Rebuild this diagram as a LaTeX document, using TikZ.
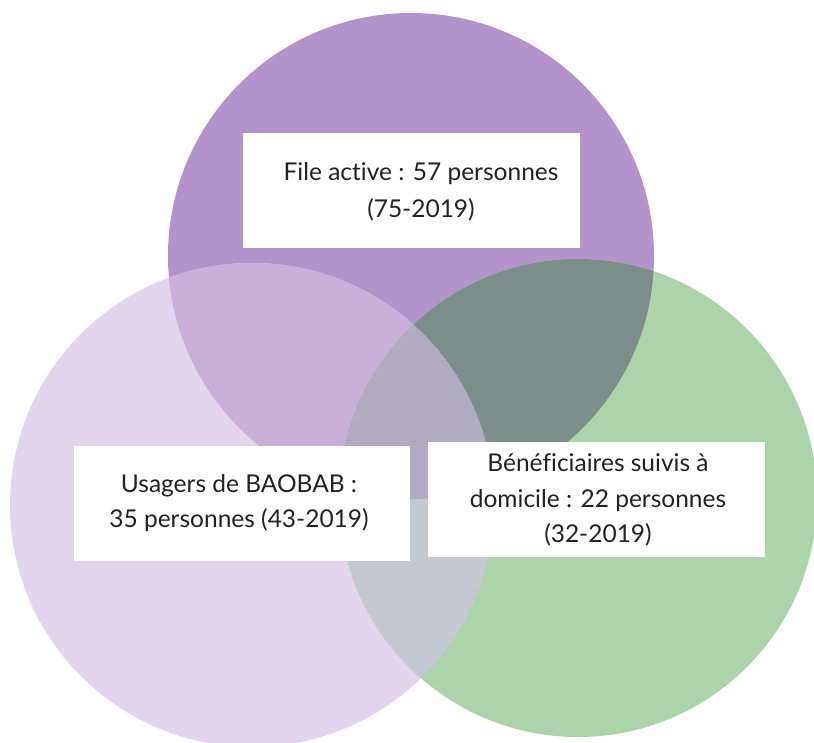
\documentclass[tikz,border=0pt]{standalone}
\usepackage{fontspec}
\setmainfont{Lato}[Ligatures=NoCommon]
\definecolor{cA}{HTML}{B393CC}
\definecolor{cB}{HTML}{E2D5EC}
\definecolor{cC}{HTML}{ABD4AB}
\definecolor{cAB}{HTML}{C8B0DA}
\definecolor{cAC}{HTML}{7B8E8A}
\definecolor{cBC}{HTML}{C4C8D0}
\definecolor{cABC}{HTML}{B0ABC0}
\definecolor{txt}{HTML}{222222}
\tikzset{
  whitebox/.style={draw=none, fill=white, rectangle, inner sep=0pt},
  lbl/.style={align=center, text=txt, inner sep=0pt, font=\fontsize{24.5}{37}\selectfont}
}
\begin{document}
\begin{tikzpicture}[x=1pt,y=-1pt]
\useasboundingbox (0,0) rectangle (814,742);
\begin{scope}
\clip (0,0) rectangle (814,742);
\def\circA{(411,256) circle (243)}
\def\circB{(252,505) circle (242)}
\def\circC{(578,498) circle (239)}
\fill[cA] \circA;
\fill[cB] \circB;
\fill[cC] \circC;
\begin{scope}\clip \circA; \fill[cAB] \circB; \fill[cAC] \circC; \end{scope}
\begin{scope}\clip \circB; \fill[cBC] \circC; \end{scope}
\begin{scope}\clip \circA; \clip \circB; \fill[cABC] \circC; \end{scope}
\end{scope}
\node[whitebox, minimum width=337, minimum height=115] (boxA) at (411.5,190.5) {};
\node[whitebox, minimum width=336, minimum height=115] (boxB) at (242,503.5) {};
\node[whitebox, minimum width=337, minimum height=115] (boxC) at (596.5,499.5) {};
\node[lbl] (tA) at (421,192) {File active : 57 personnes\\(75-2019)};
\node[lbl, font=\fontsize{24.5}{35}\selectfont] (tB) at (239,503) {Usagers de BAOBAB :\\35 personnes (43-2019)};
\node[lbl, font=\fontsize{24.5}{35.5}\selectfont] (tC) at (598,500) {Bénéficiaires suivis à\\domicile : 22 personnes\\(32-2019)};
\end{tikzpicture}
\end{document}
